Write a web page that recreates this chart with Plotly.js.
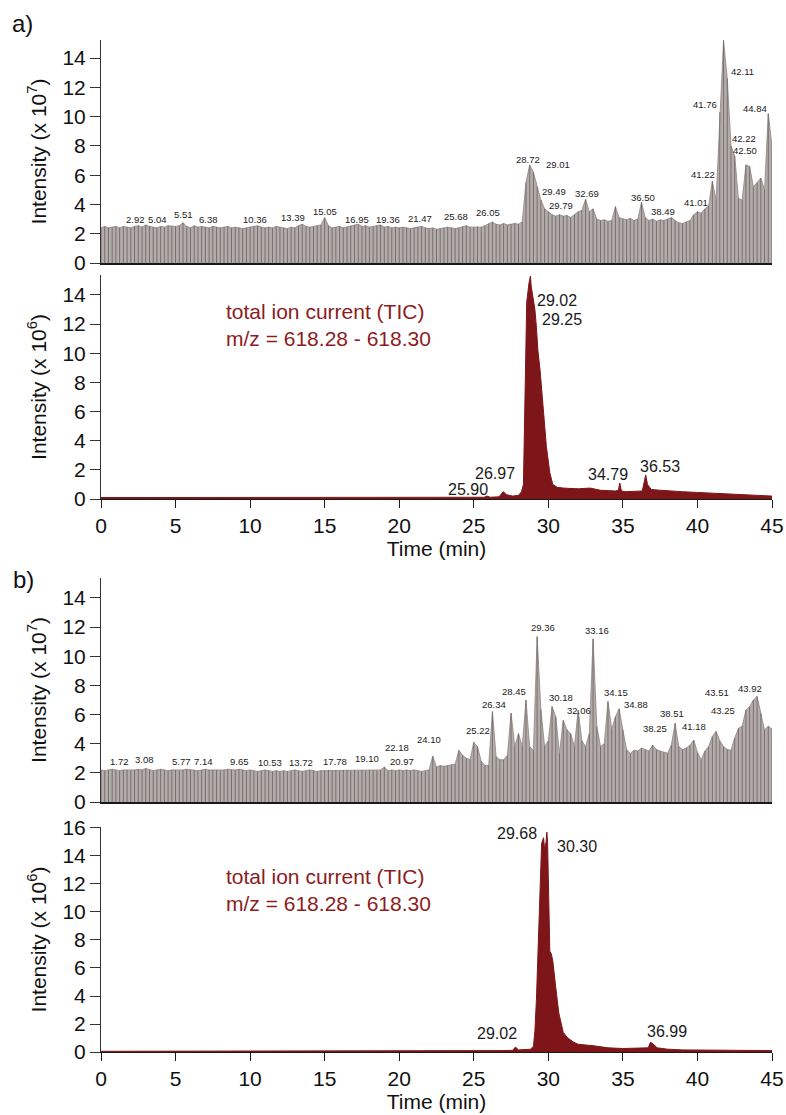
<!DOCTYPE html>
<html>
<head>
<meta charset="utf-8">
<script src="https://cdn.plot.ly/plotly-3.0.1.min.js"></script>
<style>html,body{margin:0;padding:0;background:#fff;}#chart{width:786px;height:1115px;}</style>
</head>
<body>
<div id="chart"></div>
<script>
// ---------- DATA ----------
// time grid for the gray total chromatograms (min), one sample every 0.25 min
const ticStep = 0.25;
// a) upper panel: total chromatogram envelope, x 10^7
const ticA = [
  2.4,2.5,2.4,2.45,2.5,2.4,2.5,2.45,2.4,2.5,2.55,2.45,2.6,2.5,2.45,2.4,2.5,2.45,2.55,2.5,
  2.5,2.55,2.75,2.5,2.4,2.55,2.45,2.5,2.45,2.4,2.5,2.45,2.4,2.45,2.5,2.4,2.45,2.4,2.35,2.4,
  2.45,2.5,2.55,2.45,2.4,2.45,2.4,2.5,2.45,2.4,2.35,2.45,2.4,2.55,2.65,2.5,2.45,2.5,2.55,2.6,
  3.1,2.55,2.4,2.45,2.5,2.4,2.45,2.55,2.6,2.65,2.5,2.55,2.45,2.5,2.55,2.6,2.45,2.5,2.4,2.45,
  2.4,2.45,2.4,2.35,2.4,2.45,2.5,2.4,2.35,2.4,2.3,2.35,2.4,2.45,2.4,2.35,2.4,2.5,2.55,2.45,
  2.45,2.5,2.45,2.55,2.7,2.8,2.65,2.6,2.7,2.6,2.65,2.7,2.65,2.8,5.5,6.7,6.2,5.2,4.3,3.7,
  3.5,3.3,3.2,3.3,3.2,3.25,3.1,3.3,3.5,3.6,4.35,3.5,3.7,3.0,2.9,2.95,2.85,2.9,3.85,3.1,
  3.0,2.95,3.05,2.9,3.0,4.15,3.1,2.9,3.0,2.85,2.95,2.9,3.0,3.1,2.9,2.75,2.7,2.8,2.9,3.3,
  3.5,3.4,3.7,3.9,5.6,4.3,10.3,15.2,12.6,8.0,7.3,4.4,4.3,6.7,6.6,5.2,5.5,5.8,5.0,10.2,
  8.0
];
// b) upper panel: total chromatogram envelope, x 10^7
const ticB = [
  2.2,2.15,2.2,2.25,2.2,2.15,2.2,2.2,2.15,2.2,2.25,2.2,2.3,2.2,2.15,2.2,2.25,2.2,2.15,2.2,
  2.2,2.15,2.2,2.25,2.2,2.2,2.15,2.2,2.25,2.2,2.2,2.2,2.15,2.2,2.25,2.2,2.2,2.25,2.2,2.15,
  2.2,2.15,2.1,2.15,2.2,2.15,2.1,2.15,2.1,2.15,2.1,2.15,2.2,2.15,2.1,2.15,2.2,2.15,2.1,2.15,
  2.15,2.2,2.15,2.2,2.15,2.2,2.2,2.15,2.2,2.15,2.2,2.15,2.2,2.2,2.15,2.2,2.4,2.15,2.2,2.15,
  2.2,2.15,2.2,2.15,2.2,2.15,2.1,2.15,2.2,3.15,2.4,2.5,2.45,2.5,2.55,2.6,3.55,3.2,3.0,2.9,
  4.1,3.8,2.8,2.5,2.5,6.2,3.1,2.9,2.9,3.2,6.1,3.8,4.7,3.8,7.0,3.8,3.55,11.35,6.35,3.8,
  4.2,6.55,5.85,3.35,5.6,4.95,4.7,3.8,6.3,4.2,3.8,4.7,11.2,5.2,3.8,4.0,6.9,5.0,5.85,6.4,
  4.95,3.6,3.35,3.55,3.5,3.7,3.6,3.5,3.9,3.6,3.5,3.4,3.35,3.9,5.4,3.8,3.6,3.7,3.9,4.25,
  3.4,2.9,3.5,3.8,4.5,4.85,4.2,3.8,3.6,3.55,4.4,5.05,5.2,6.3,6.55,7.0,7.25,6.1,4.95,5.2,
  5.0
];

// a) lower panel: extracted ion chromatogram m/z 618.28-618.30, x 10^6
const eicA_t = [0,5,10,15,20,25,25.7,25.9,26.1,26.7,26.97,27.2,27.6,28.0,28.2,28.33,28.4,28.45,28.55,28.7,28.8,28.85,29.0,29.1,29.2,29.3,29.45,29.65,29.87,30.1,30.3,30.6,31,32,32.8,33.5,34.5,34.7,34.79,34.9,35.2,36.3,36.45,36.53,36.65,36.9,37.5,38,39,40,42,44,45];
const eicA_v = [0.1,0.1,0.1,0.1,0.1,0.12,0.12,0.2,0.12,0.15,0.5,0.3,0.2,0.25,0.5,1.0,5.0,10.0,13.5,14.8,15.3,14.6,13.6,13.0,11.8,10.2,8.8,6.1,3.6,1.8,1.0,0.8,0.75,0.7,0.75,0.6,0.55,0.6,1.1,0.55,0.5,0.55,1.2,1.65,1.0,0.65,0.6,0.55,0.5,0.45,0.35,0.3,0.2];
// b) lower panel
const eicB_t = [0,10,20,24.9,25,26.9,27.6,27.8,28.0,28.8,29.0,29.1,29.2,29.3,29.4,29.5,29.55,29.68,29.75,29.85,29.9,29.95,30.05,30.1,30.2,30.3,30.5,30.7,31.0,31.3,31.7,32,33,34,35,36,36.7,36.85,37.0,37.3,38,39,40,42,45];
const eicB_v = [0.05,0.05,0.05,0.08,0.1,0.1,0.12,0.35,0.15,0.2,0.4,1.5,3.7,7.0,10.9,13.5,14.9,15.3,14.5,15.0,15.7,15.0,10.0,7.2,7.0,6.5,4.6,2.8,1.4,1.0,0.7,0.55,0.45,0.3,0.25,0.25,0.3,0.7,0.6,0.3,0.2,0.15,0.15,0.12,0.1];

// peak labels (text) and where they sit (time, intensity)
const lblA1 = ["2.92","5.04","5.51","6.38","10.36","13.39","15.05","16.95","19.36","21.47","25.68","26.05","28.72","29.01","29.49","29.79","32.69","36.50","38.49","41.01","41.22","41.76","41.89","42.11","44.84","42.22","42.50"];
const posA1_t = [2.28,3.76,5.5,7.2,10.33,12.88,15.0,17.2,19.25,21.4,23.8,25.96,28.64,30.65,30.38,30.85,32.6,36.35,37.7,39.9,40.38,40.5,41.78,43.0,43.87,43.1,43.2];
const posA1_v = [2.94,2.94,3.28,3.0,3.0,3.14,3.55,3.0,3.0,3.07,3.2,3.48,7.1,6.76,4.85,3.96,4.78,4.44,3.55,4.16,6.05,10.85,15.56,13.05,10.58,8.53,7.7];

const lblA2 = ["29.02","29.25","26.97","25.90","34.79","36.53"];
const posA2_t = [30.56,30.94,26.43,24.64,33.98,37.5];
const posA2_v = [13.6,12.35,1.78,0.67,1.65,2.22];

const lblB1 = ["1.72","3.08","5.77","7.14","9.65","10.53","13.72","17.78","19.10","22.18","20.97","24.10","25.22","26.34","28.45","29.36","30.18","32.06","33.16","34.15","34.88","38.25","38.51","41.18","43.51","43.25","43.92"];
const posB1_t = [1.27,2.95,5.41,6.86,9.28,11.33,13.41,15.7,17.82,19.83,20.17,22.0,25.31,26.36,27.72,29.62,30.85,32.06,33.25,34.54,35.88,37.16,38.32,39.77,41.33,41.74,43.52];
const posB1_v = [2.77,2.93,2.77,2.81,2.77,2.73,2.73,2.79,2.99,3.74,2.77,4.26,4.89,6.72,7.57,11.96,7.17,6.25,11.8,7.53,6.66,5.03,6.04,5.17,7.48,6.29,7.81];

const lblB2 = ["29.68","30.30","29.02","36.99"];
const posB2_t = [27.88,31.9,26.54,37.94];
const posB2_v = [15.62,14.66,1.33,1.45];

const ticText = ["total ion current (TIC)", "m/z = 618.28 - 618.30"];
const yTicksTop = [0,2,4,6,8,10,12,14];
const yTicksB2 = [0,2,4,6,8,10,12,14,16];
const xTicks = [0,5,10,15,20,25,30,35,40,45];

// ---------- BUILD ----------
const tGrid = ticA.map((_, i) => i * ticStep);
const GRAY = '#b3acaa', GRAYEDGE = '#8d8582', GRAYLINE = '#716966', RED = '#7e1619', TXTRED = '#8c1c1e';
const FONT = 'Liberation Sans, Arial, Helvetica, sans-serif';

// each scan drawn as a vertical stick from 0 to its intensity, over a filled envelope
function grayTraces(vals, xa, ya) {
  const sx = [], sy = [];
  vals.forEach((v, i) => { sx.push(tGrid[i], tGrid[i], null); sy.push(0, v, null); });
  return [
    {type:'scatter', mode:'lines', x:tGrid, y:vals, xaxis:xa, yaxis:ya,
     fill:'tozeroy', fillcolor:GRAY, line:{color:GRAYEDGE, width:0.8}},
    {type:'scatter', mode:'lines', x:sx, y:sy, xaxis:xa, yaxis:ya, connectgaps:false,
     line:{color:GRAYLINE, width:0.9}}
  ];
}

const traces = [
  ...grayTraces(ticA, 'x', 'y'),
  {type:'scatter', mode:'lines', x:eicA_t, y:eicA_v, xaxis:'x2', yaxis:'y2',
   fill:'tozeroy', fillcolor:RED, line:{color:RED, width:1}},
  ...grayTraces(ticB, 'x3', 'y3'),
  {type:'scatter', mode:'lines', x:eicB_t, y:eicB_v, xaxis:'x4', yaxis:'y4',
   fill:'tozeroy', fillcolor:RED, line:{color:RED, width:1}}
];

const H = 1115, W = 786;
const xd = [101/W, 772/W];
const dom = (top, bot) => [1 - bot/H, 1 - top/H];

function xAx(anchor, labels) {
  const a = {domain:xd, range:[0,45], anchor:anchor, showgrid:false, zeroline:false,
    showline:true, linecolor:'#1a1a1a', linewidth: labels ? 1 : 2, fixedrange:true};
  if (labels) {
    Object.assign(a, {ticks:'outside', ticklen:8, tickcolor:'#1a1a1a', tickwidth:1,
      tickvals:xTicks, ticktext:xTicks.map(String), tickfont:{size:21, color:'#111'},
      title:{text:'Time (min)', font:{size:21, color:'#111'}, standoff:4}});
  } else {
    Object.assign(a, {ticks:'', showticklabels:false});
  }
  return a;
}
function yAx(anchor, d, top, ticks, exp) {
  return {domain:d, range:[0, top], anchor:anchor, showgrid:false, zeroline:false,
    showline:true, linecolor:'#333', linewidth:1, ticks:'outside', ticklen:10,
    tickcolor:'#333', tickwidth:1, tickvals:ticks, ticktext:ticks.map(String),
    tickfont:{size:21, color:'#111'}, fixedrange:true,
    title:{text:'Intensity (x 10<sup>' + exp + '</sup>)', font:{size:21, color:'#111'}, standoff:10}};
}

const ann = [];
function addLabels(txt, ts, vs, xr, yr, size) {
  txt.forEach((s, i) => ann.push({text:s, x:ts[i], y:vs[i], xref:xr, yref:yr, showarrow:false,
    font:{size:size, color:'#1a1a1a', family:FONT}, xanchor:'center', yanchor:'middle'}));
}
addLabels(lblA1, posA1_t, posA1_v, 'x', 'y', 9.5);
addLabels(lblA2, posA2_t, posA2_v, 'x2', 'y2', 16);
addLabels(lblB1, posB1_t, posB1_v, 'x3', 'y3', 9.5);
addLabels(lblB2, posB2_t, posB2_v, 'x4', 'y4', 16);

// TIC captions
[[ 'y2', 1-311.7/H, 1-338/H ], ['y4', 1-876.7/H, 1-903.3/H]].forEach(c => {
  ticText.forEach((s, k) => ann.push({text:s, xref:'paper', yref:'paper', x:224/W, y:c[1+k],
    xanchor:'left', yanchor:'middle', showarrow:false, font:{size:21, color:TXTRED, family:FONT}}));
});
// panel letters
ann.push({text:'a)', xref:'paper', yref:'paper', x:22/W, y:1-24/H, showarrow:false,
  xanchor:'center', yanchor:'middle', font:{size:24, color:'#111', family:FONT}});
ann.push({text:'b)', xref:'paper', yref:'paper', x:23/W, y:1-579/H, showarrow:false,
  xanchor:'center', yanchor:'middle', font:{size:24, color:'#111', family:FONT}});

const layout = {
  width:W, height:H, margin:{l:0, r:0, t:0, b:0},
  paper_bgcolor:'#fff', plot_bgcolor:'#fff', showlegend:false,
  font:{family:FONT, color:'#111'}, hovermode:false,
  xaxis: xAx('y', false),
  xaxis2: xAx('y2', true),
  xaxis3: xAx('y3', false),
  xaxis4: xAx('y4', true),
  yaxis: yAx('x', dom(40, 263), 15.23, yTicksTop, 7),
  yaxis2: yAx('x2', dom(275, 499), 15.37, yTicksTop, 6),
  yaxis3: yAx('x3', dom(578, 802), 15.37, yTicksTop, 7),
  yaxis4: yAx('x4', dom(827, 1052), 16.07, yTicksB2, 6),
  annotations: ann
};

Plotly.newPlot('chart', traces, layout, {staticPlot:true, displayModeBar:false});
</script>
</body>
</html>
